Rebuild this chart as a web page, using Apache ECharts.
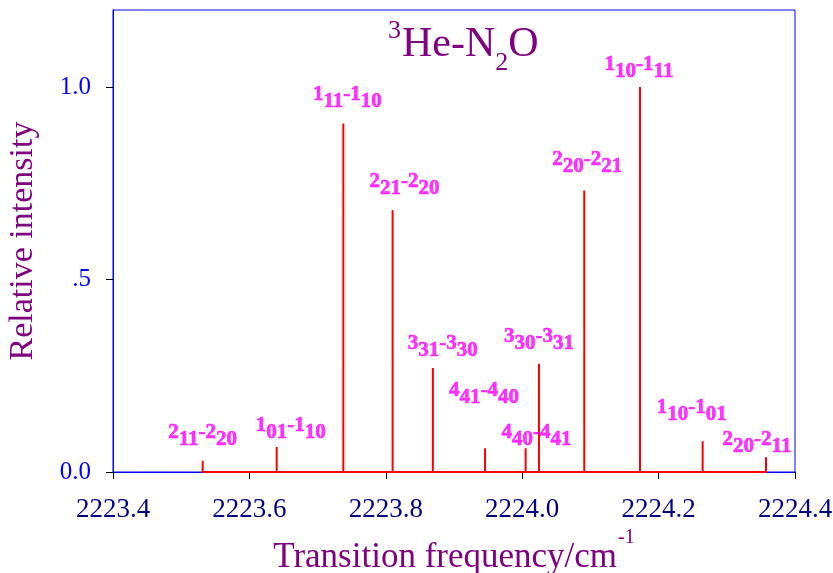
<!DOCTYPE html>
<html><head><meta charset="utf-8">
<script src="https://cdn.jsdelivr.net/npm/echarts@6/dist/echarts.min.js"></script>
<style>html,body{margin:0;padding:0;background:#fff}#c{width:833px;height:573px}</style>
</head><body><div id="c"></div>
<script>
// Data
const peakFreq = [2223.5315, 2223.6400, 2223.7377, 2223.8100, 2223.8690, 2223.9455, 2224.0050, 2224.0246, 2224.0910, 2224.1727, 2224.2646, 2224.3575];
const peakIntensity = [0.029, 0.065, 0.905, 0.680, 0.270, 0.062, 0.062, 0.281, 0.731, 1.000, 0.080, 0.038];
// Transition labels: [J', Ka'Kc', J'', Ka''Kc'']
const peakLabels = [
  ['2','11','2','20'], ['1','01','1','10'], ['1','11','1','10'], ['2','21','2','20'],
  ['3','31','3','30'], ['4','41','4','40'], ['4','40','4','41'], ['3','30','3','31'],
  ['2','20','2','21'], ['1','10','1','11'], ['1','10','1','01'], ['2','20','2','11']
];
const xTicks = [2223.4, 2223.6, 2223.8, 2224.0, 2224.2, 2224.4];
const yTicks = [0, 0.5, 1.0];
const yTickLabels = ['0.0', '.5', '1.0'];

// Layout only: label offsets (px) relative to each peak top
const labelOffsets = [[0,-25],[14,-18],[4,-25],[12,-25],[10,-21],[-1,-54],[11,-12],[0,-24],[3,-27],[-1,-19],[-11,-30],[-9,-14]];

const SERIF = 'Liberation Serif, Times New Roman, serif';
const stick = [[peakFreq[0], 0]];
peakFreq.forEach((f, i) => { stick.push([f, 0], [f, peakIntensity[i]], [f, 0]); });

const labelData = peakFreq.map((f, i) => {
  const L = peakLabels[i];
  return {
    value: [f, peakIntensity[i]],
    label: {
      offset: labelOffsets[i],
      formatter: '{sup|' + L[0] + '}{sub|' + L[1] + '}{sup|-' + L[2] + '}{sub|' + L[3] + '}'
    }
  };
});

const chart = echarts.init(document.getElementById('c'), null, {renderer: 'canvas'});
chart.setOption({
  animation: false,
  backgroundColor: '#ffffff',
  title: {
    text: '{sup|3}{m|He-N}{sub|2}{m|O}',
    left: 388, top: 24, padding: 0,
    textStyle: {
      fontWeight: 'normal',
      rich: {
        m: {fontFamily: SERIF, fontSize: 42, fontWeight: 'normal', color: '#800080', lineHeight: 42},
        sup: {fontFamily: SERIF, fontSize: 26, fontWeight: 'normal', color: '#800080', lineHeight: 26, padding: [0, 1, 28, 0]},
        sub: {fontFamily: SERIF, fontSize: 26, fontWeight: 'normal', color: '#800080', lineHeight: 26, padding: [36, 0, 0, 0]}
      }
    }
  },
  grid: {left: 113, right: 38, top: 10, bottom: 101, show: true, borderColor: '#0000ff', borderWidth: 1, containLabel: false, outerBoundsMode: 'none'},
  xAxis: {
    type: 'value', min: 2223.4, max: 2224.4, interval: 0.2,
    name: '{m|Transition frequency/cm}{sup|-1}',
    nameLocation: 'middle', nameGap: 58,
    nameTextStyle: {
      rich: {
        m: {fontFamily: SERIF, fontSize: 35, color: '#800080', lineHeight: 35},
        sup: {fontFamily: SERIF, fontSize: 20, color: '#800080', lineHeight: 20, padding: [0, 0, 40, 1]}
      }
    },
    axisLine: {show: true, lineStyle: {color: '#0000ff', width: 1}},
    axisTick: {show: true, inside: false, length: 7, lineStyle: {color: '#000000', width: 1}},
    axisLabel: {
      fontFamily: SERIF, fontSize: 27, color: '#000080', margin: 24,
      customValues: xTicks,
      formatter: v => v.toFixed(1)
    },
    splitLine: {show: false}
  },
  yAxis: {
    type: 'value', min: 0, max: 1.2, interval: 0.5,
    name: 'Relative intensity', nameLocation: 'middle', nameRotate: 90, nameGap: 73,
    nameTextStyle: {fontFamily: SERIF, fontSize: 34, color: '#800080'},
    axisLine: {show: true, lineStyle: {color: '#0000ff', width: 1}},
    axisTick: {show: true, inside: false, length: 7, lineStyle: {color: '#000000', width: 1}, customValues: yTicks},
    axisLabel: {
      fontFamily: SERIF, fontSize: 25, color: '#0000ff', margin: 22,
      customValues: yTicks,
      formatter: v => { const k = yTicks.findIndex(t => Math.abs(t - v) < 1e-9); return k >= 0 ? yTickLabels[k] : ''; }
    },
    splitLine: {show: false}
  },
  series: [
    {
      type: 'line', data: stick, symbol: 'none', z: 5,
      lineStyle: {color: '#ff0000', width: 2}
    },
    {
      type: 'scatter', data: labelData, symbolSize: 1, z: 6,
      itemStyle: {color: 'transparent'},
      label: {
        show: true, position: 'inside', align: 'center', verticalAlign: 'middle',
        rich: {
          sup: {fontFamily: SERIF, fontSize: 21, fontWeight: 'bold', color: '#ff00ff', lineHeight: 21, padding: [0, 0, 7, 0], textBorderColor: '#ff00ff', textBorderWidth: 0.6},
          sub: {fontFamily: SERIF, fontSize: 21, fontWeight: 'bold', color: '#ff00ff', lineHeight: 21, padding: [7, 0, 0, 0], textBorderColor: '#ff00ff', textBorderWidth: 0.6}
        }
      }
    }
  ]
});
</script>
</body></html>
